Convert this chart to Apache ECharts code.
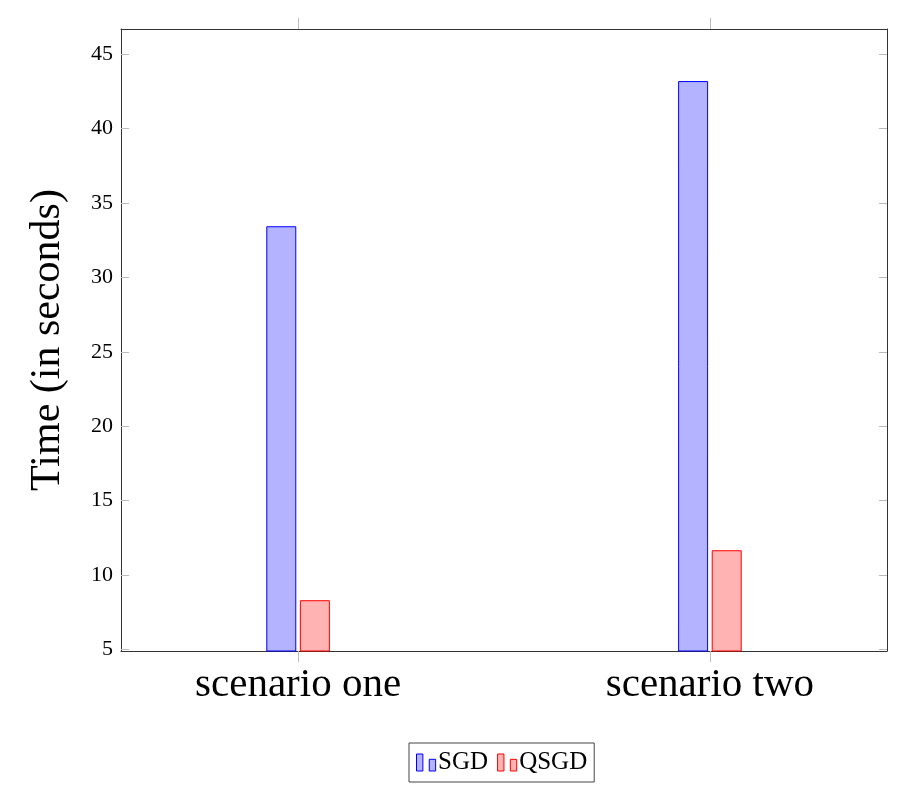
<!DOCTYPE html>
<html>
<head>
<meta charset="utf-8">
<script src="https://cdn.jsdelivr.net/npm/echarts@6/dist/echarts.min.js"></script>
<style>
  html, body { margin: 0; padding: 0; background: #fff; }
  #chart { width: 909px; height: 805px; }
</style>
</head>
<body>
<div id="chart"></div>
<script>
var categories = ['scenario one', 'scenario two'];
var sgdValues = [33.44, 43.2];
var qsgdValues = [8.3, 11.66];
var yTicks = [5, 10, 15, 20, 25, 30, 35, 40, 45];

var serif = '"Liberation Serif", "DejaVu Serif", serif';
var iconPath = 'path://M0,0H6V16H0Z M12,5H18V16H12Z';

function pts(vals) {
  return vals.map(function (v, i) { return [i, v]; });
}

var chart = echarts.init(document.getElementById('chart'));

var xBase = {
  type: 'value', min: -0.43, max: 1.43,
  splitLine: { show: false },
  axisLine: { show: true, onZero: false, lineStyle: { color: '#333', width: 1 } },
  axisTick: { show: true, inside: false, length: 11, customValues: [0, 1], lineStyle: { color: '#bbb' } }
};
var yBase = {
  type: 'value', min: 4.886, max: 46.7,
  splitLine: { show: false },
  axisLine: { show: true, onZero: false, lineStyle: { color: '#333', width: 1 } },
  axisTick: { show: true, inside: true, length: 8, customValues: yTicks, lineStyle: { color: '#bbb' } }
};

chart.setOption({
  animation: false,
  grid: { left: 121, right: 22, top: 29, bottom: 154 },
  xAxis: [
    Object.assign({}, xBase, {
      position: 'bottom',
      axisLabel: {
        customValues: [0, 1], margin: 14,
        fontFamily: serif, fontSize: 41, color: '#000',
        formatter: function (v) { return categories[Math.round(v)]; }
      }
    }),
    Object.assign({}, xBase, { position: 'top', axisLabel: { show: false } })
  ],
  yAxis: [
    Object.assign({}, yBase, {
      position: 'left',
      name: 'Time (in seconds)', nameLocation: 'middle', nameGap: 52,
      nameTextStyle: { fontFamily: serif, fontSize: 42, color: '#000' },
      axisLabel: { customValues: yTicks, margin: 8, fontFamily: serif, fontSize: 22, color: '#000' }
    }),
    Object.assign({}, yBase, { position: 'right', axisLabel: { show: false } })
  ],
  legend: {
    bottom: 23, left: 409,
    data: ['SGD', 'QSGD'],
    icon: iconPath, itemWidth: 20, itemHeight: 17, itemGap: 9,
    itemStyle: { borderWidth: 1 },
    borderColor: '#444', borderWidth: 1, borderRadius: 0,
    padding: [7, 7],
    textStyle: { fontFamily: serif, fontSize: 25, color: '#000', padding: [0, 0, 0, -3] }
  },
  series: [
    {
      name: 'SGD', type: 'bar', data: pts(sgdValues),
      barWidth: 30, barGap: '12%',
      itemStyle: { color: '#b3b3ff', borderColor: '#0000ff', borderWidth: 1 }
    },
    {
      name: 'QSGD', type: 'bar', data: pts(qsgdValues),
      barWidth: 30, barGap: '12%',
      itemStyle: { color: '#ffb3b3', borderColor: '#ff0000', borderWidth: 1 }
    }
  ]
});
</script>
</body>
</html>
